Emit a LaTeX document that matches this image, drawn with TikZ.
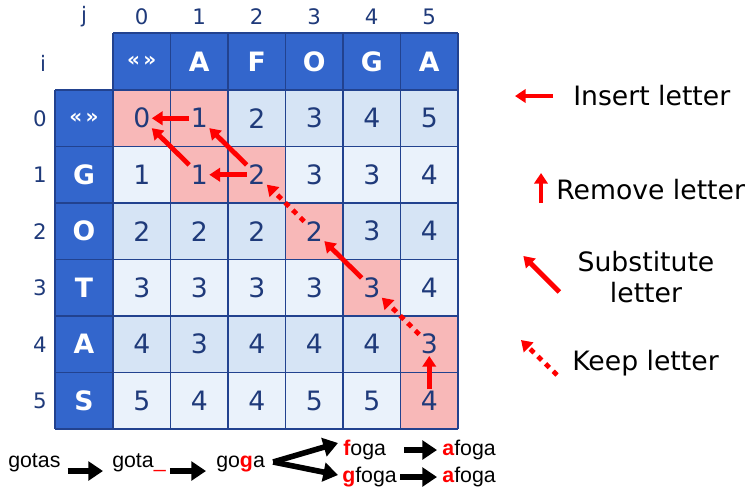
\documentclass[tikz,border=0pt]{standalone}
\usepackage{fontspec}
\setmainfont{DejaVu Sans}
\newfontfamily\arialfont{Liberation Sans}
\usetikzlibrary{arrows.meta}

\definecolor{hdrblue}{HTML}{3366CC}
\definecolor{gridnavy}{HTML}{22428F}
\definecolor{numblue}{HTML}{1F3A7A}
\definecolor{rowlight}{HTML}{D6E4F5}
\definecolor{rowpale}{HTML}{EAF2FB}
\definecolor{pathpink}{HTML}{F8B8B8}

\begin{document}
\begin{tikzpicture}[x=0.75pt,y=-0.75pt,
    num/.style={text=numblue,font=\fontsize{20}{20}\selectfont,inner sep=1pt},
    idx/.style={text=numblue,font=\fontsize{16}{16}\selectfont},
    hdr/.style={text=white,font=\fontsize{20}{20}\selectfont\bfseries},
    editarrow/.style={red,line width=3.6pt,-{Triangle[length=8pt,width=10pt]}},
    keeparrow/.style={editarrow,dash pattern=on 4pt off 4pt},
    legend/.style={font=\fontsize{20}{23}\selectfont,anchor=west,inner sep=0pt},
    word/.style={font=\arialfont\fontsize{16}{16}\selectfont,inner sep=0pt,anchor=base west},
    steparrow/.style={black,line width=4.2pt,-{Triangle[length=11pt,width=14pt]}}]

  \useasboundingbox (0,0) rectangle (755,486);

  % cell backgrounds
  \fill[hdrblue] (113,33) rectangle (458,90);
  \fill[hdrblue] (55,90) rectangle (113,429);
  \foreach \r in {0,...,5}
    \foreach \c in {0,...,5}{
      \pgfmathsetmacro\tint{mod(\r,2)==0 ? 1 : 0}
      \ifdim\tint pt>0.5pt
        \fill[rowlight] ({113+57.5*\c},{90+56.5*\r}) rectangle ++(57.5,56.5);
      \else
        \fill[rowpale] ({113+57.5*\c},{90+56.5*\r}) rectangle ++(57.5,56.5);
      \fi
    }
  % edit path
  \foreach \r/\c in {0/0,0/1,1/1,1/2,2/3,3/4,4/5,5/5}
    \fill[pathpink] ({113+57.5*\c},{90+56.5*\r}) rectangle ++(57.5,56.5);

  % grid lines
  \foreach \k in {0,...,6}{
    \draw[gridnavy,line width=1pt] ({113+57.5*\k},33) -- ({113+57.5*\k},429);
    \draw[gridnavy,line width=1pt] (55,{90+56.5*\k}) -- (458,{90+56.5*\k});
  }
  \draw[gridnavy,line width=1pt] (55,90) -- (55,429);
  \draw[gridnavy,line width=1pt] (113,33) -- (458,33);

  % headers
  \node[hdr,font=\fontsize{15}{15}\selectfont\bfseries] (h0) at (141.75,61.5) {«\,»};
  \foreach \h [count=\c from 1] in {A,F,O,G,A}
    \node[hdr] (h\c) at ({141.75+57.5*\c},61.5) {\h};
  \node[hdr,font=\fontsize{15}{15}\selectfont\bfseries] (v0) at (84,118.25) {«\,»};
  \foreach \h [count=\r from 1] in {G,O,T,A,S}
    \node[hdr] (v\r) at (84,{118.25+56.5*\r}) {\h};

  % indices
  \node[idx] (jlab) at (84,17) {j};
  \node[idx] (ilab) at (43,63) {i};
  \foreach \k in {0,...,5}{
    \node[idx] (j\k) at ({141.75+57.5*\k},17) {\k};
    \node[idx] (i\k) at (40,{118.25+56.5*\k}) {\k};
  }

  % distances
  \foreach \row [count=\r from 0] in {{0,1,2,3,4,5},{1,1,2,3,3,4},{2,2,2,2,3,4},
                                      {3,3,3,3,3,4},{4,3,4,4,4,3},{5,4,4,5,5,4}}
    \foreach \v [count=\c from 0] in \row
      \node[num] (c\r\c) at ({141.75+57.5*\c},{118.25+56.5*\r}) {\v};

  % backtrace
  \draw[editarrow] (c01) -- (c00);
  \draw[editarrow] (c11) -- (c00);
  \draw[editarrow] (c12) -- (c01);
  \draw[editarrow] (c12) -- (c11);
  \draw[keeparrow] (c23) -- (c12);
  \draw[editarrow] (c34) -- (c23);
  \draw[keeparrow] (c45) -- (c34);
  \draw[editarrow] (c55) -- (c45);

  % legend
  \node[legend] (ins) at (573,96) {Insert letter};
  \draw[editarrow] ([xshift=-15]ins.west) -- ++(-38,0);
  \node[legend] (rem) at (556,190) {Remove letter};
  \draw[editarrow] ([shift={(-15,13)}]rem.west) -- ++(0,-30);
  \node[legend,anchor=center,align=center] (sub) at (646,277) {Substitute\\letter};
  \draw[editarrow] ([shift={(-18,15)}]sub.west) -- ++(-36,-36);
  \node[legend] (keep) at (572,363) {Keep letter};
  \draw[keeparrow] ([shift={(-15,12)}]keep.west) -- ++(-36,-35);

  % transformation of the word
  \node[word] (w1) at (8,467) {gotas};
  \node[word] (w2) at (112,467) {gota\textcolor{red}{\_}};
  \node[word] (w3) at (216,467) {go\textcolor{red}{\textbf{g}}a};
  \node[word] (w4) at (343,455) {\textcolor{red}{\textbf{f}}oga};
  \node[word] (w5) at (442,455) {\textcolor{red}{\textbf{a}}foga};
  \node[word] (w6) at (342,482) {\textcolor{red}{\textbf{g}}foga};
  \node[word] (w7) at (442,482) {\textcolor{red}{\textbf{a}}foga};

  \draw[steparrow] ([shift={(7,4)}]w1.base east) -- ([shift={(-9,4)}]w2.base west);
  \draw[steparrow] ([shift={(4,4)}]w2.base east) -- ([shift={(-10,4)}]w3.base west);
  \draw[steparrow] ([shift={(8,-5)}]w3.base east) -- ([shift={(-5,-12)}]w4.base west);
  \draw[steparrow] ([shift={(8,-5)}]w3.base east) -- ([shift={(-4,-7)}]w6.base west);
  \draw[steparrow] ([shift={(18,-5)}]w4.base east) -- ([shift={(-5,-5)}]w5.base west);
  \draw[steparrow] ([shift={(3,-5)}]w6.base east) -- ([shift={(-5,-5)}]w7.base west);
\end{tikzpicture}
\end{document}
